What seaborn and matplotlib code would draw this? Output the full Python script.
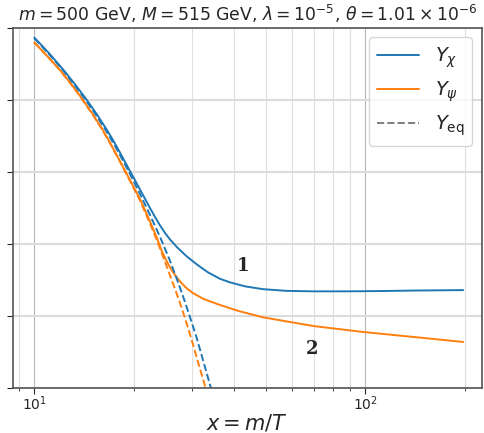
import numpy as np
import pandas as pd
import matplotlib
matplotlib.use("Agg")
import matplotlib.pyplot as plt
import seaborn as sns
from matplotlib.lines import Line2D

# ---- data ----
x_chi = [10.0, 11.16, 12.24, 13.27, 14.39, 15.44, 16.55, 17.33, 18.15, 19.46, 20.86, 22.36,
         23.15, 23.98, 24.82, 25.70, 26.93, 28.87, 30.95, 33.48, 36.39, 39.02, 43.31, 49.09,
         58.0, 69.5, 87.86, 110.8, 139.4, 197.3]
y_chi = [5.32e-6, 1.82e-6, 6.78e-7, 2.69e-7, 1.0e-7, 3.97e-8, 1.48e-8, 7.31e-9, 3.40e-9,
         1.04e-9, 3.21e-10, 9.86e-11, 5.56e-11, 3.24e-11, 2.00e-11, 1.32e-11, 8.20e-12,
         4.48e-12, 2.69e-12, 1.61e-12, 1.07e-12, 8.53e-13, 6.61e-13, 5.52e-13, 4.95e-13,
         4.81e-13, 4.81e-13, 4.90e-13, 5.06e-13, 5.21e-13]

x_psi = [10.0, 10.92, 11.96, 12.91, 13.91, 14.91, 15.98, 16.93, 17.94, 19.32, 20.86, 22.36,
         23.43, 24.26, 25.12, 26.01, 26.93, 27.88, 28.87, 30.22, 32.39, 35.57, 41.25, 49.09,
         69.5, 98.4, 139.4, 197.3]
y_psi = [3.86e-6, 1.66e-6, 6.65e-7, 2.77e-7, 1.10e-7, 4.37e-8, 1.63e-8, 6.45e-9, 2.40e-9,
         6.68e-10, 1.75e-10, 4.17e-11, 1.50e-11, 6.35e-12, 3.25e-12, 1.83e-12, 1.17e-12,
         8.00e-13, 5.82e-13, 4.23e-13, 2.98e-13, 2.16e-13, 1.38e-13, 9.14e-14, 5.25e-14,
         3.58e-14, 2.61e-14, 1.89e-14]

x_eq_chi = [10.0, 11.16, 12.24, 13.27, 14.39, 15.44, 16.55, 17.33, 18.15, 19.46, 20.86, 22.36,
            23.98, 25.70, 26.93, 28.20, 29.54, 30.95, 32.39, 33.95, 35.40]
y_eq_chi = [5.06e-6, 1.71e-6, 6.35e-7, 2.44e-7, 9.08e-8, 3.49e-8, 1.30e-8, 6.24e-9, 2.90e-9,
            8.63e-10, 2.41e-10, 6.31e-11, 1.55e-11, 3.36e-12, 1.07e-12, 3.27e-13, 9.14e-14,
            2.40e-14, 5.53e-15, 1.20e-15, 2.94e-16]

x_eq_psi = [10.0, 10.92, 11.96, 12.91, 13.91, 14.91, 15.98, 16.93, 17.94, 19.32, 20.86, 22.36,
            23.43, 24.53, 25.70, 27.23, 28.53, 29.89, 31.29, 32.79, 34.19]
y_eq_psi = [3.92e-6, 1.66e-6, 6.56e-7, 2.72e-7, 1.07e-7, 4.23e-8, 1.57e-8, 6.24e-9, 2.32e-9,
            6.28e-10, 1.59e-10, 3.67e-11, 1.28e-11, 4.20e-12, 1.33e-12, 3.08e-13, 8.59e-14,
            2.11e-14, 4.86e-15, 1.12e-15, 2.94e-16]

legend_labels = [r"$Y_\chi$", r"$Y_\psi$", r"$Y_{\rm eq}$"]
title = r"$m = 500$ GeV, $M = 515$ GeV, $\lambda = 10^{-5}$, $\theta = 1.01\times10^{-6}$"
xlabel = r"$x = m/T$"
curve_tags = ["1", "2"]
tag_x = [42.7, 69.0]
tag_y = [2.37e-12, 1.19e-14]

sns.set_style("white")
plt.rcParams["font.family"] = ["DejaVu Sans"]

blue = "#1f77b4"
orange = "#ff7f0e"

fig = plt.figure(figsize=(4.85, 4.33), dpi=100)
ax = fig.add_axes([0.026, 0.104, 0.968, 0.832])

df_chi = pd.DataFrame({"x": x_chi, "y": y_chi})
df_psi = pd.DataFrame({"x": x_psi, "y": y_psi})
df_eq_chi = pd.DataFrame({"x": x_eq_chi, "y": y_eq_chi})
df_eq_psi = pd.DataFrame({"x": x_eq_psi, "y": y_eq_psi})

kw = dict(sort=False, estimator=None, lw=1.4)
sns.lineplot(data=df_chi, x="x", y="y", ax=ax, color=blue, **kw)
sns.lineplot(data=df_psi, x="x", y="y", ax=ax, color=orange, **kw)
sns.lineplot(data=df_eq_chi, x="x", y="y", ax=ax, color=blue, ls="--", **kw)
sns.lineplot(data=df_eq_psi, x="x", y="y", ax=ax, color=orange, ls="--", **kw)

ax.set_xscale("log")
ax.set_yscale("log")
ax.set_xlim(8.6, 225)
ax.set_ylim(1e-15, 1e-5)
ax.yaxis.set_major_locator(matplotlib.ticker.LogLocator(base=10, numticks=6))
ax.yaxis.set_minor_locator(matplotlib.ticker.NullLocator())
ax.set_yticklabels([])
ax.tick_params(axis="y", which="major", length=4, width=0.8, direction="out", left=True, labelleft=False)
ax.tick_params(axis="x", which="major", length=4, width=0.8, direction="out", bottom=True,
               labelsize=10, pad=0.5)
ax.tick_params(axis="x", which="minor", length=2.5, width=0.6, direction="out", bottom=True)

ax.grid(True, which="major", axis="x", color="#b8b8b8", lw=0.8)
ax.grid(True, which="minor", axis="x", color="#e0e0e0", lw=0.8)
ax.grid(True, which="major", axis="y", color="#dcdcdc", lw=1.5)

for s in ax.spines.values():
    s.set_color("#555555")
    s.set_linewidth(1.2)

ax.set_ylabel("")
ax.set_xlabel(xlabel, fontsize=15, labelpad=0)
ax.set_title(title, fontsize=12.4, pad=5)

for t, tx, ty in zip(curve_tags, tag_x, tag_y):
    ax.text(tx, ty, t, fontsize=13, fontweight="bold", family="DejaVu Serif",
            ha="center", va="center")

handles = [Line2D([], [], color=blue, lw=1.4),
           Line2D([], [], color=orange, lw=1.4),
           Line2D([], [], color="gray", lw=1.4, ls="--")]
ax.legend(handles, legend_labels, loc="upper right", fontsize=14, frameon=True,
          handlelength=2.2, borderaxespad=0.5)

fig.savefig("out.png", dpi=100)
